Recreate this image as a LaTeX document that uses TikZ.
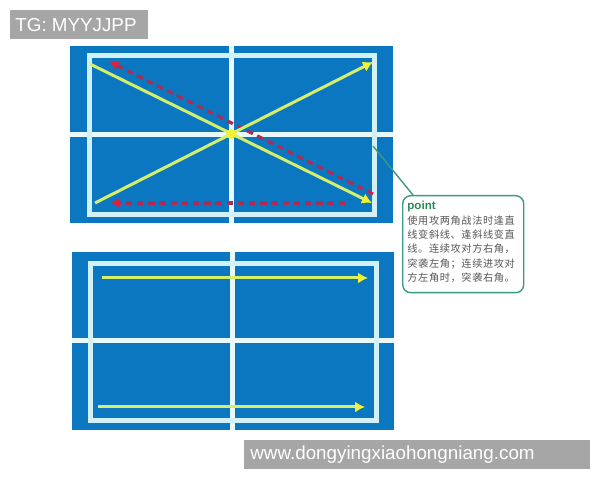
\documentclass[tikz,border=0pt]{standalone}
\usepackage{fontspec}
\setmainfont{Liberation Sans}
\newfontfamily\cjk[LetterSpace=6]{Noto Sans CJK SC}
\usetikzlibrary{arrows.meta}
\definecolor{courtblue}{HTML}{0A77C0}
\definecolor{courtline}{HTML}{D2F0F8}
\definecolor{ylw}{HTML}{D6EE6A}
\definecolor{ylwtip}{HTML}{F2F230}
\definecolor{rdd}{HTML}{B02C52}
\definecolor{rdtip}{HTML}{E0203C}
\definecolor{tealc}{HTML}{3A9A84}
\definecolor{grn}{HTML}{2A8A5A}
\definecolor{labgray}{HTML}{A6A6A6}
\definecolor{txtgray}{HTML}{555555}
\tikzset{
  courtfill/.style={fill=courtblue},
  cline/.style={draw=courtline, line width=2.5pt},
  gapline/.style={draw=courtline!50!white, line width=2.8pt},
  yarrow/.style={draw=ylw, line width=1.5pt, -{Latex[length=5pt,width=5.5pt,fill=ylwtip,color=ylwtip]}},
  rarrow/.style={draw=rdd, line width=1.6pt, dash pattern=on 3.2pt off 2.4pt, -{Latex[length=4pt,width=5pt,fill=rdtip,color=rdtip]}},
  labbox/.style={fill=labgray, inner sep=0pt, anchor=north west},
  labtext/.style={text=white, font=\fontsize{9.4pt}{11pt}\selectfont, anchor=west, inner sep=0pt},
  callbox/.style={draw=tealc, line width=0.7pt, rounded corners=4pt, fill=white, inner sep=0pt, anchor=north west, minimum width=60.5pt, minimum height=48.5pt},
}
\begin{document}
\begin{tikzpicture}[x=0.5pt,y=-0.5pt]
\useasboundingbox (0,0) rectangle (600,480);
% labels
\node[labbox, minimum width=69pt, minimum height=14.5pt] (tg) at (10,10) {};
\node[labtext] (tgt) at ([xshift=2.5pt]tg.west) {TG: MYYJJPP};
\node[labbox, minimum width=173pt, minimum height=14.5pt] (www) at (244,440) {};
\node[labtext] (wwwt) at ([xshift=3pt]www.west) {www.dongyingxiaohongniang.com};
% top court
\fill[courtfill] (70,46) rectangle (393,223);
\draw[gapline] (231.5,46) -- (231.5,223);
\draw[gapline] (70,134.5) -- (393,134.5);
\draw[cline] (89.5,55.5) rectangle (374.5,214.5);
\coordinate (a1) at (90,64);
\coordinate (a2) at (372,203);
\coordinate (b1) at (95,203);
\coordinate (b2) at (373,62);
\coordinate (c1) at (373,194);
\coordinate (c2) at (110,62);
\coordinate (d1) at (345,203);
\coordinate (d2) at (111,203);
\draw[rarrow] (c1) -- (c2);
\draw[rarrow] (d1) -- (d2);
\draw[yarrow] (a1) -- (a2);
\draw[yarrow] (b1) -- (b2);
\fill[ylwtip] (231,134) circle (2.5pt);
% callout
\node[callbox] (callout) at (402,195) {};
\coordinate (ptr) at (373,146);
\draw[tealc, line width=0.7pt] (ptr) -- ([xshift=5.5pt]callout.north west);
\node[anchor=north west, inner sep=0pt, align=left, text=txtgray, font=\fontsize{5.1pt}{7.15pt}\selectfont] (ctext) at (407,201)
 {{\color{grn}\fontsize{5.8pt}{7pt}\selectfont\bfseries point}\\
 {\cjk 使用攻两角战法时逢直}\\
 {\cjk 线变斜线、逢斜线变直}\\
 {\cjk 线。连续攻对方右角，}\\
 {\cjk 突袭左角；连续进攻对}\\
 {\cjk 方左角时，突袭右角。}};
% bottom court
\fill[courtfill] (72,252) rectangle (394,430);
\draw[gapline] (232.5,252) -- (232.5,430);
\draw[gapline] (72,340.5) -- (394,340.5);
\draw[cline] (90.5,263.5) rectangle (376,421);
\coordinate (e1) at (102,278);
\coordinate (e2) at (368,278);
\coordinate (f1) at (98,407);
\coordinate (f2) at (365,407);
\draw[yarrow] (e1) -- (e2);
\draw[yarrow] (f1) -- (f2);
\end{tikzpicture}
\end{document}
